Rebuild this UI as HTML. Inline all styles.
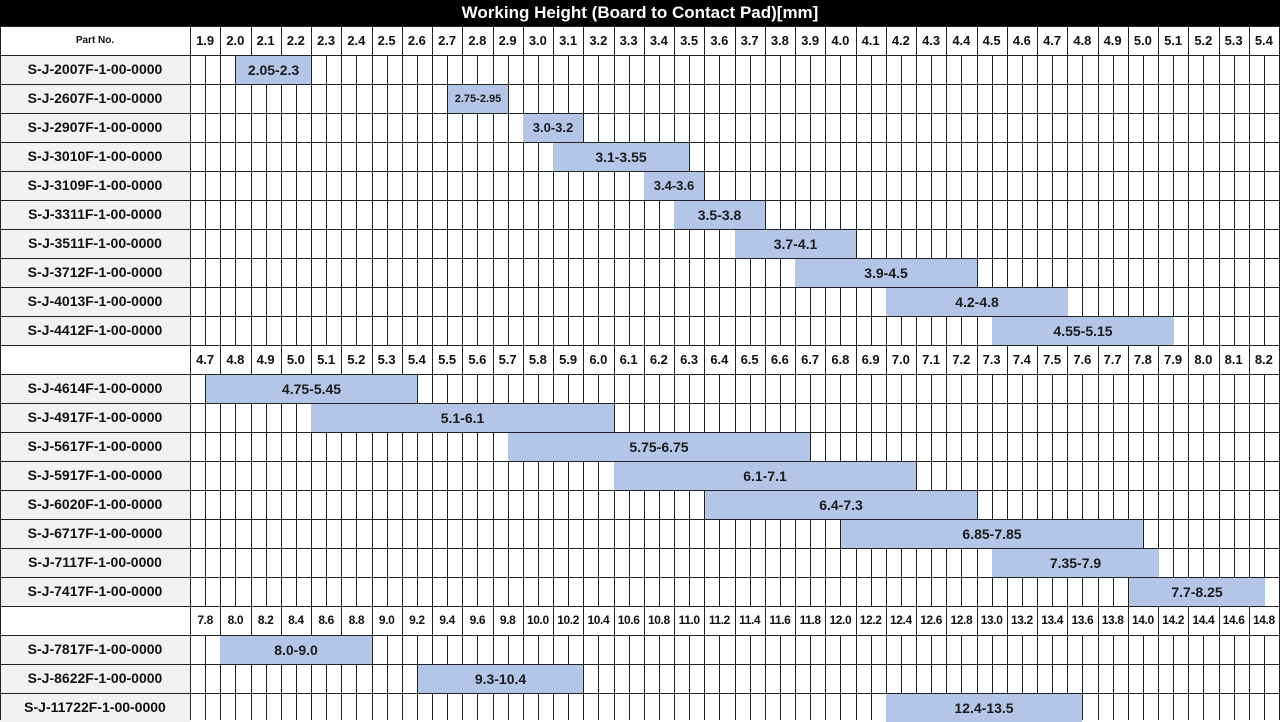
<!DOCTYPE html>
<html><head><meta charset="utf-8"><style>
body{margin:0;width:1280px;height:720px;overflow:hidden;background:#fff;font-family:"Liberation Sans",Arial,sans-serif;}
#t{position:absolute;left:0;top:0;width:1280px;height:26px;background:#000;color:#fff;font-weight:bold;font-size:17px;line-height:26px;text-align:center;}
.lab{position:absolute;left:0;width:190px;height:29px;background:#f2f2f2;font-weight:bold;font-size:14px;line-height:29px;text-align:center;color:#111;}
.hd{position:absolute;left:190px;height:29px;display:flex;font-weight:bold;font-size:13px;line-height:29px;color:#111;}
.hd span{width:30.25px;text-align:center;flex:none;}
.bar{position:absolute;z-index:2;height:28px;background:#b4c6e7;font-weight:bold;font-size:14px;line-height:28px;text-align:center;color:#1a1a1a;white-space:nowrap;}
svg{position:absolute;left:0;top:0;z-index:1;}
</style></head><body>
<div id="t">Working Height (Board to Contact Pad)[mm]</div>
<div class="lab" style="top:26px;background:#fff;font-size:10px">Part No.</div>
<div class="lab" style="top:55px">S-J-2007F-1-00-0000</div>
<div class="lab" style="top:84px">S-J-2607F-1-00-0000</div>
<div class="lab" style="top:113px">S-J-2907F-1-00-0000</div>
<div class="lab" style="top:142px">S-J-3010F-1-00-0000</div>
<div class="lab" style="top:171px">S-J-3109F-1-00-0000</div>
<div class="lab" style="top:200px">S-J-3311F-1-00-0000</div>
<div class="lab" style="top:229px">S-J-3511F-1-00-0000</div>
<div class="lab" style="top:258px">S-J-3712F-1-00-0000</div>
<div class="lab" style="top:287px">S-J-4013F-1-00-0000</div>
<div class="lab" style="top:316px">S-J-4412F-1-00-0000</div>
<div class="lab" style="top:345px;background:#fff"></div>
<div class="lab" style="top:374px">S-J-4614F-1-00-0000</div>
<div class="lab" style="top:403px">S-J-4917F-1-00-0000</div>
<div class="lab" style="top:432px">S-J-5617F-1-00-0000</div>
<div class="lab" style="top:461px">S-J-5917F-1-00-0000</div>
<div class="lab" style="top:490px">S-J-6020F-1-00-0000</div>
<div class="lab" style="top:519px">S-J-6717F-1-00-0000</div>
<div class="lab" style="top:548px">S-J-7117F-1-00-0000</div>
<div class="lab" style="top:577px">S-J-7417F-1-00-0000</div>
<div class="lab" style="top:606px;background:#fff"></div>
<div class="lab" style="top:635px">S-J-7817F-1-00-0000</div>
<div class="lab" style="top:664px">S-J-8622F-1-00-0000</div>
<div class="lab" style="top:693px">S-J-11722F-1-00-0000</div>

<div class="hd" style="top:26px"><span>1.9</span><span>2.0</span><span>2.1</span><span>2.2</span><span>2.3</span><span>2.4</span><span>2.5</span><span>2.6</span><span>2.7</span><span>2.8</span><span>2.9</span><span>3.0</span><span>3.1</span><span>3.2</span><span>3.3</span><span>3.4</span><span>3.5</span><span>3.6</span><span>3.7</span><span>3.8</span><span>3.9</span><span>4.0</span><span>4.1</span><span>4.2</span><span>4.3</span><span>4.4</span><span>4.5</span><span>4.6</span><span>4.7</span><span>4.8</span><span>4.9</span><span>5.0</span><span>5.1</span><span>5.2</span><span>5.3</span><span>5.4</span></div>
<div class="hd" style="top:345px"><span>4.7</span><span>4.8</span><span>4.9</span><span>5.0</span><span>5.1</span><span>5.2</span><span>5.3</span><span>5.4</span><span>5.5</span><span>5.6</span><span>5.7</span><span>5.8</span><span>5.9</span><span>6.0</span><span>6.1</span><span>6.2</span><span>6.3</span><span>6.4</span><span>6.5</span><span>6.6</span><span>6.7</span><span>6.8</span><span>6.9</span><span>7.0</span><span>7.1</span><span>7.2</span><span>7.3</span><span>7.4</span><span>7.5</span><span>7.6</span><span>7.7</span><span>7.8</span><span>7.9</span><span>8.0</span><span>8.1</span><span>8.2</span></div>
<div class="hd" style="top:606px;font-size:12px;letter-spacing:-0.4px"><span>7.8</span><span>8.0</span><span>8.2</span><span>8.4</span><span>8.6</span><span>8.8</span><span>9.0</span><span>9.2</span><span>9.4</span><span>9.6</span><span>9.8</span><span>10.0</span><span>10.2</span><span>10.4</span><span>10.6</span><span>10.8</span><span>11.0</span><span>11.2</span><span>11.4</span><span>11.6</span><span>11.8</span><span>12.0</span><span>12.2</span><span>12.4</span><span>12.6</span><span>12.8</span><span>13.0</span><span>13.2</span><span>13.4</span><span>13.6</span><span>13.8</span><span>14.0</span><span>14.2</span><span>14.4</span><span>14.6</span><span>14.8</span></div>

<div class="bar" style="top:56px;left:236px;width:75px">2.05-2.3</div>
<div class="bar" style="top:85px;left:448px;width:60px;font-size:11px">2.75-2.95</div>
<div class="bar" style="top:114px;left:523px;width:60px;font-size:13px">3.0-3.2</div>
<div class="bar" style="top:143px;left:553px;width:136px">3.1-3.55</div>
<div class="bar" style="top:172px;left:644px;width:60px;font-size:13px">3.4-3.6</div>
<div class="bar" style="top:201px;left:674px;width:91px">3.5-3.8</div>
<div class="bar" style="top:230px;left:735px;width:121px">3.7-4.1</div>
<div class="bar" style="top:259px;left:795px;width:182px">3.9-4.5</div>
<div class="bar" style="top:288px;left:886px;width:182px">4.2-4.8</div>
<div class="bar" style="top:317px;left:992px;width:182px">4.55-5.15</div>
<div class="bar" style="top:375px;left:206px;width:211px">4.75-5.45</div>
<div class="bar" style="top:404px;left:311px;width:303px">5.1-6.1</div>
<div class="bar" style="top:433px;left:508px;width:302px">5.75-6.75</div>
<div class="bar" style="top:462px;left:614px;width:302px">6.1-7.1</div>
<div class="bar" style="top:491px;left:705px;width:272px">6.4-7.3</div>
<div class="bar" style="top:520px;left:841px;width:302px">6.85-7.85</div>
<div class="bar" style="top:549px;left:992px;width:167px">7.35-7.9</div>
<div class="bar" style="top:578px;left:1129px;width:136px">7.7-8.25</div>
<div class="bar" style="top:636px;left:220px;width:152px">8.0-9.0</div>
<div class="bar" style="top:665px;left:418px;width:165px">9.3-10.4</div>
<div class="bar" style="top:694px;left:886px;width:196px">12.4-13.5</div>

<svg id="g" width="1280" height="720"></svg>
<script>
var s='',hdr={0:1,11:1,20:1};
for(var i=0;i<=24;i++){var y=26+29*i+0.5;s+='<line x1="0" x2="1280" y1="'+y+'" y2="'+y+'"/>';}
for(var k=0;k<=36;k++){var x=Math.round(190+30.25*k)+0.5;s+='<line x1="'+x+'" x2="'+x+'" y1="26" y2="720"/>';}
for(var r=0;r<24;r++){if(hdr[r])continue;var y1=26+29*r,y2=y1+29;
for(var k=0;k<36;k++){var x=Math.round(190+30.25*k+15.125)+0.5;s+='<line x1="'+x+'" x2="'+x+'" y1="'+y1+'" y2="'+y2+'"/>';}}
s+='<line x1="0.5" x2="0.5" y1="26" y2="720"/>';
document.getElementById('g').innerHTML='<g stroke="#222" stroke-width="1">'+s+'</g>';
</script>
</body></html>
